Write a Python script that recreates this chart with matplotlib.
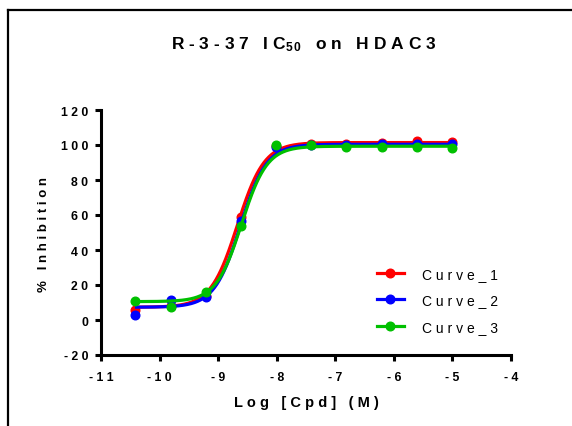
import numpy as np
import matplotlib
matplotlib.use("Agg")
import matplotlib.pyplot as plt
from matplotlib.ticker import FuncFormatter
from matplotlib.lines import Line2D

plt.rcParams['font.family'] = ['Liberation Sans', 'DejaVu Sans']
plt.rcParams['mathtext.fontset'] = 'custom'
plt.rcParams['mathtext.rm'] = 'Liberation Sans:bold'
plt.rcParams['mathtext.it'] = 'Liberation Sans:bold'
plt.rcParams['mathtext.bf'] = 'Liberation Sans:bold'

# ---- data ----
log_conc = [-10.42, -9.81, -9.21, -8.61, -8.01, -7.41, -6.81, -6.20, -5.60, -5.00]
curve_1 = [5.9, 8.0, 14.0, 59.0, 99.5, 100.5, 100.6, 101.0, 102.3, 101.9]
curve_2 = [2.9, 11.4, 13.0, 56.8, 98.7, 100.0, 100.2, 100.5, 100.5, 100.6]
curve_3 = [11.0, 7.2, 16.2, 53.9, 100.0, 100.0, 99.0, 98.7, 99.0, 98.5]
series_names = ["Curve_1", "Curve_2", "Curve_3"]
series_colors = ["#FF0000", "#0000FF", "#00C000"]
# 4PL fit parameters: bottom, top, logIC50, hill
fit_1 = [7.3, 101.4, -8.67, 1.9]
fit_2 = [7.3, 100.4, -8.62, 1.95]
fit_3 = [10.5, 99.3, -8.60, 2.0]
x_ticks = [-11, -10, -9, -8, -7, -6, -5, -4]
y_ticks = [-20, 0, 20, 40, 60, 80, 100, 120]


def four_pl(x, p):
    b, t, ic, h = p
    return b + (t - b) / (1 + 10 ** ((ic - x) * h))


def spaced(s):
    return " ".join(list(s))


W, H = 572, 427
fig = plt.figure(figsize=(W / 100, H / 100), dpi=100)
ax = fig.add_axes([101 / W, 1 - 356 / H, 410 / W, 245 / H])

xs = np.linspace(min(log_conc), max(log_conc), 400)
for vals, fit, col in zip([curve_1, curve_2, curve_3], [fit_1, fit_2, fit_3], series_colors):
    ax.plot(xs, four_pl(xs, fit), color=col, lw=2.3, solid_capstyle='butt')
    ax.plot(log_conc, vals, 'o', color=col, ms=6.2, mec=col)

ax.set_xlim(-11, -4)
ax.set_ylim(-20, 120)
ax.set_xticks(x_ticks)
ax.set_yticks(y_ticks)
fmt = FuncFormatter(lambda v, pos: spaced(str(int(v))))
ax.xaxis.set_major_formatter(fmt)
ax.yaxis.set_major_formatter(fmt)
for s in ['top', 'right']:
    ax.spines[s].set_visible(False)
for s in ['left', 'bottom']:
    ax.spines[s].set_linewidth(2.2)
ax.tick_params(axis='both', direction='out', length=4.3, width=2.2,
               labelsize=8.8)
ax.tick_params(axis='y', pad=5)
ax.tick_params(axis='x', pad=7)
for lab in ax.get_xticklabels() + ax.get_yticklabels():
    lab.set_fontweight('bold')

# legend
handles = [Line2D([0], [0], color=c, lw=2.3, marker='o', ms=6.2) for c in series_colors]
leg = ax.legend(handles, [spaced(n) for n in series_names], loc='lower right',
                bbox_to_anchor=(1.0, 0.035), frameon=False, fontsize=10,
                handlelength=2.0, labelspacing=0.91, handletextpad=1.3)

# title and axis labels
fig.text(304 / W, 1 - 45 / H, r"R - 3 - 3 7   I C$_{5\,0}$   o n   H D A C 3",
         ha='center', va='center', fontsize=12.5, fontweight='bold')
fig.text(306 / W, 1 - 403 / H, spaced("Log [Cpd] (M)"), ha='center', va='center',
         fontsize=10.5, fontweight='bold')
fig.text(44 / W, 1 - 234 / H, spaced("% Inhibition"), ha='center', va='center',
         fontsize=9.5, fontweight='bold', rotation=90)

# outer frame (left and top)
fig.add_artist(Line2D([8 / W, 8 / W], [0, 1 - 11 / H], color='black', lw=1.6,
                      transform=fig.transFigure))
fig.add_artist(Line2D([8 / W, 1], [1 - 11 / H, 1 - 11 / H], color='black', lw=1.6,
                      transform=fig.transFigure))

fig.savefig("out.png", dpi=100)
